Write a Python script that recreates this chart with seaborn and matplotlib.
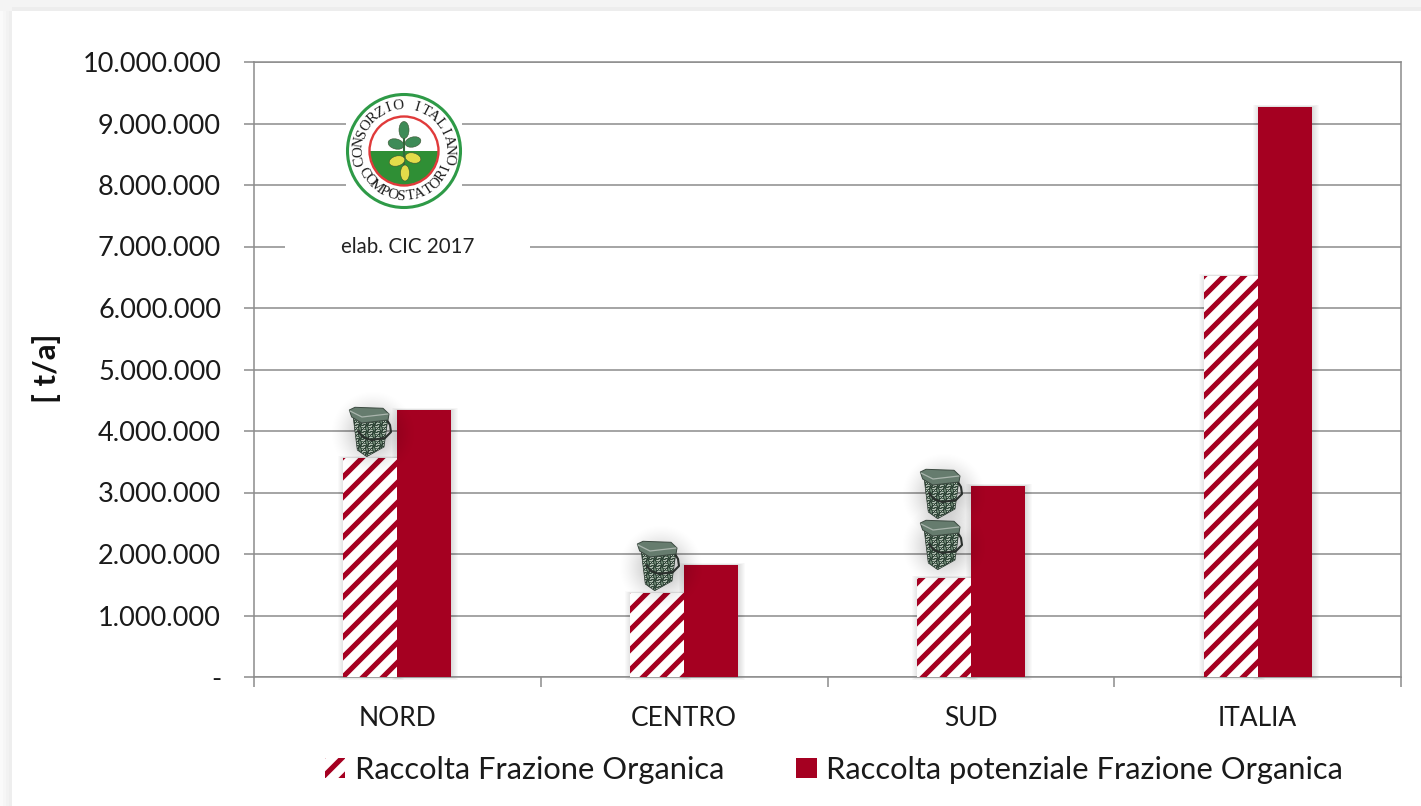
import numpy as np
import pandas as pd
import seaborn as sns
import matplotlib
matplotlib.use("Agg")
import matplotlib.pyplot as plt
import matplotlib.hatch as mhatch
from matplotlib.patches import Rectangle, Circle, Polygon, Ellipse, Wedge
from matplotlib.ticker import FuncFormatter, MultipleLocator, FixedLocator

categories = ["NORD", "CENTRO", "SUD", "ITALIA"]
raccolta = [3560000, 1360000, 1610000, 6520000]
potenziale = [4340000, 1820000, 3110000, 9270000]
series_names = ["Raccolta Frazione Organica", "Raccolta potenziale Frazione Organica"]
RED = "#A50021"
GRID = "#8C8C8C"
W, H = 1421, 806


class WideStripes(mhatch.NorthEastHatch):
    """North-east stripes with the spacing of the reference (even count so the tile repeats)."""
    def __init__(self, hatch, density):
        super().__init__(hatch, density)
        if self.num_lines:
            self.num_lines = 10
            self.num_vertices = (self.num_lines + 1) * 2


mhatch._hatch_types[mhatch._hatch_types.index(mhatch.NorthEastHatch)] = WideStripes

sns.set_theme(style="white")
plt.rcParams["font.family"] = ["Lato", "DejaVu Sans"]
plt.rcParams["hatch.linewidth"] = 3.7

df = pd.DataFrame({
    "cat": categories * 2,
    "serie": [series_names[0]] * 4 + [series_names[1]] * 4,
    "val": raccolta + potenziale,
})

fig = plt.figure(figsize=(W / 100, H / 100), dpi=100, facecolor="white")
ax = fig.add_axes([254 / W, (H - 677) / H, 1147 / W, 615 / H])
sns.barplot(data=df, x="cat", y="val", hue="serie", order=categories, hue_order=series_names,
            palette=[RED, RED], width=0.376, gap=0, saturation=1, legend=False, ax=ax, zorder=3)
for b in ax.containers[0]:
    b.set_facecolor("white"); b.set_edgecolor(RED); b.set_hatch("/"); b.set_linewidth(0)
for b in ax.containers[1]:
    b.set_linewidth(0)

# soft shadow around the bars, built from the bars themselves
px_x, px_y = 4 / 1147, 10000000 / 615
for cont in ax.containers:
    for b in list(cont):
        for k in range(1, 8):
            ax.add_patch(Rectangle((b.get_x() - (k - 2) * px_x, -k * 0.45 * px_y),
                                   b.get_width() + (2 * k - 2) * px_x, b.get_height() + k * 0.45 * px_y + k * 0.3 * px_y,
                                   fc="black", ec="none", alpha=0.018, zorder=2.5, clip_on=False))

ax.set_xlim(-0.5, 3.5)
ax.set_ylim(0, 10000000)
ax.yaxis.set_major_locator(MultipleLocator(1000000))
ax.yaxis.set_major_formatter(FuncFormatter(lambda v, p: "-" if v == 0 else f"{int(v):,}".replace(",", ".")))
ax.grid(axis="y", color=GRID, lw=1.1)
ax.set_axisbelow(True)
for s in ax.spines.values():
    s.set_color(GRID); s.set_linewidth(1.1); s.set_visible(True)
ax.tick_params(axis="y", left=True, length=7.2, width=1.1, color=GRID, pad=16.5, labelsize=19.5, labelcolor="#1a1a1a")
ax.xaxis.set_minor_locator(FixedLocator([-0.5, 0.5, 1.5, 2.5, 3.5]))
ax.tick_params(axis="x", which="minor", bottom=True, length=7.2, width=1.1, color=GRID)
ax.tick_params(axis="x", which="major", bottom=False, pad=15, labelsize=19, labelcolor="#1a1a1a")
ax.set_xlabel("")
ax.set_ylabel("")

# overlay in pixel coordinates for the decorations
ov = fig.add_axes([0, 0, 1, 1], zorder=5)
ov.patch.set_alpha(0)
ov.axis("off")


def shadow(cx, cy, r, a=0.36):
    g = np.linspace(-1, 1, 80)
    xx, yy = np.meshgrid(g, g)
    d = np.clip(1 - np.hypot(xx, yy), 0, 1) ** 1.5
    rgba = np.zeros((80, 80, 4))
    rgba[..., 3] = d * a
    ov.imshow(rgba, extent=(cx - r, cx + r, cy + r, cy - r), aspect="auto", zorder=1, interpolation="bilinear")


jj, ii = np.meshgrid(np.arange(44), np.arange(52))
speck = (ii * ii * 3 + jj * jj * 5 + ii * jj) % 7
pal = np.array([[0.17, 0.24, 0.20], [0.62, 0.68, 0.63], [0.30, 0.40, 0.33], [0.42, 0.51, 0.44],
                [0.22, 0.31, 0.25], [0.72, 0.76, 0.72], [0.26, 0.35, 0.29]])
texture = pal[speck]


def bin_icon(x0, y0):
    shadow(x0 + 24, y0 + 26, 44)
    P = lambda pts: [(x0 + a, y0 + b) for a, b in pts]
    body = Polygon(P([(4.3, 11), (12.7, 16), (38.7, 13), (35, 40), (17.7, 49.7), (8.3, 43)]),
                   fc="none", ec="#27352c", lw=0.5, zorder=4)
    ov.add_patch(body)
    im = ov.imshow(texture, extent=(x0, x0 + 44, y0 + 52, y0), aspect="auto", zorder=3.5, interpolation="nearest")
    im.set_clip_path(body)
    ov.plot(*zip(*P([(9, 24), (14, 30), (22, 33), (36, 31), (42, 25), (41, 18), (38, 13)])),
            color="#2a2f2c", lw=1.5, zorder=4.5)
    ov.add_patch(Polygon(P([(0.3, 3), (6, 0.3), (34, 1.3), (40, 7), (39, 13), (12.7, 16), (2.7, 10)]),
                         fc="#667c6e", ec="#3c4a41", lw=0.7, zorder=5))
    ov.plot(*zip(*P([(1, 4), (13, 10), (39, 7)])), color="#aab5ad", lw=0.9, zorder=6)


for xy in [(349, 407), (637, 541), (920, 469), (920, 520)]:
    bin_icon(*xy)

# white boxes behind logo and note
ov.add_patch(Rectangle((346, 92), 116, 119, fc="white", ec="none", zorder=7))
ov.add_patch(Rectangle((285, 232), 245, 30, fc="white", ec="none", zorder=7))
ov.text(408, 247, "elab. CIC 2017", ha="center", va="center", fontsize=14.8, color="#222222", zorder=8)

# logo
cx, cy = 404, 151
ov.add_patch(Circle((cx, cy), 56.5, fc="white", ec="#2E9A47", lw=2.2, zorder=8))
ov.add_patch(Wedge((cx, cy), 34, 0, 180, fc="#2F8F35", ec="none", zorder=8))
ov.add_patch(Circle((cx, cy), 34.5, fc="none", ec="#E03A3A", lw=1.7, zorder=9))
ov.plot([cx, cx], [cy - 22, cy + 22], color="#2F6B3A", lw=1.5, zorder=9)
for (ex, ey, ew, eh, ang, c) in [(0, -21, 10, 17, 0, "#3E8B57"), (-8, -7, 16, 10, 15, "#3E8B57"), (9, -9, 16, 10, -15, "#3E8B57"),
                                 (-7, 10, 16, 10, -15, "#E3DC4A"), (9, 7, 16, 10, 15, "#E3DC4A"), (1, 22, 9, 16, 0, "#E3DC4A")]:
    ov.add_patch(Ellipse((cx + ex, cy + ey), ew, eh, angle=ang, fc=c, ec="#39502f", lw=0.4, zorder=10))


def arc_text(s, r, start, end, flip=False):
    n = len(s)
    for i, ch in enumerate(s):
        ang = np.radians(start + (end - start) * i / (n - 1))
        x, y = cx + r * np.sin(ang), cy - r * np.cos(ang)
        rot = -np.degrees(ang) + (180 if flip else 0)
        ov.text(x, y, ch, rotation=rot, ha="center", va="center", rotation_mode="anchor",
                fontsize=10.8, family="Liberation Serif", color="#1c1c1c", zorder=10)


arc_text("CONSORZIO ITALIANO", 45.5, -103, 100)
arc_text("COMPOSTATORI", 45.5, 242, 112, flip=True)

# outer frame
for x, c in zip(range(0, 12, 3), ["#fafafa", "#f6f6f6", "#f2f2f2", "#eeeeee"]):
    ov.add_patch(Rectangle((x, 10), 3, H - 10, fc=c, ec="none", zorder=11))
ov.add_patch(Rectangle((0, 0), W, 7, fc="#f4f4f4", ec="none", zorder=11))
ov.add_patch(Rectangle((12, 7), W - 12, 4, fc="#ededed", ec="none", zorder=11))
ov.add_patch(Rectangle((0, 7), 12, 4, fc="#f4f4f4", ec="none", zorder=11))

ov.text(47, 368, "[ t/a]", rotation=90, ha="center", va="center", fontsize=22.5, fontweight="bold", color="#111111")
ov.set_xlim(0, W)
ov.set_ylim(H, 0)

# legend
h1 = Rectangle((0, 0), 1, 1, fc="white", ec=RED, hatch="/", lw=0, label=series_names[0])
h2 = Rectangle((0, 0), 1, 1, fc=RED, ec="none", lw=0, label=series_names[1])
fig.legend(handles=[h1, h2], loc="center", bbox_to_anchor=(834 / W, (H - 770) / H), ncol=2, frameon=False,
           fontsize=22.2, labelcolor="#1a1a1a", handlelength=0.65, handleheight=0.65, handletextpad=0.3, columnspacing=2.35,
           borderpad=0)

fig.savefig("out.png", dpi=100)
